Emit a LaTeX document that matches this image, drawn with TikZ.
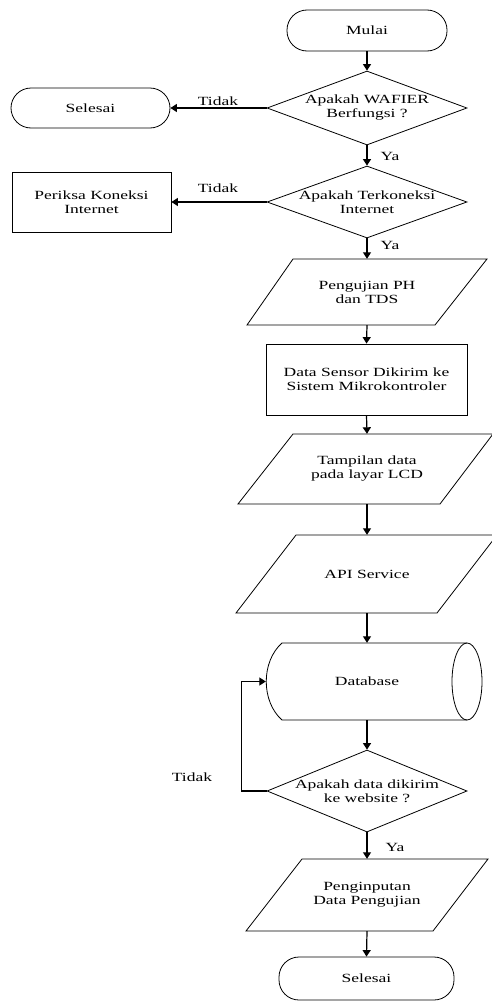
\documentclass[tikz,border=0pt]{standalone}
\usepackage{fontspec}
\setmainfont[FakeStretch=1.4]{Liberation Serif}
\usetikzlibrary{shapes.geometric,arrows.meta}
\begin{document}
\begin{tikzpicture}[x=1pt,y=-1pt,
  font=\fontsize{12.5}{14}\selectfont,
  shp/.style={draw, line width=0.8pt},
  term/.style={shp, rectangle, rounded corners=20pt, inner sep=0pt},
  proc/.style={shp, rectangle, inner sep=0pt, align=center},
  decision/.style={shp, diamond, inner sep=0pt},
  txt/.style={inner sep=0pt, align=center},
  lbl/.style={inner sep=0pt},
  flow/.style={line width=1.2pt, -{Triangle[width=8pt,length=6.5pt]}}]
\useasboundingbox (0,0) rectangle (491,1001);

% terminals
\node[term, minimum width=160pt, minimum height=41pt] (start) at (367,30.5) {Mulai};
\node[term, minimum width=159pt, minimum height=40pt] (sel1) at (90.5,108) {Selesai};
\node[term, minimum width=175pt, minimum height=43pt] (sel2) at (366.5,978.5) {Selesai};

% decisions
\node[decision, minimum width=200pt, minimum height=74pt] (d1) at (367,108) {};
\node[txt] (d1t) at (d1.center) {Apakah WAFIER\\Berfungsi ?};
\node[decision, minimum width=200pt, minimum height=72pt] (d2) at (367,202) {};
\node[txt] (d2t) at (d2.center) {Apakah Terkoneksi\\Internet};
\node[decision, minimum width=200pt, minimum height=82pt] (d3) at (367,791) {};
\node[txt] (d3t) at (d3.center) {Apakah data dikirim\\ke website ?};

% processes
\node[proc, minimum width=159pt, minimum height=60pt] (cek) at (91.5,202) {Periksa Koneksi\\Internet};
\node[proc, minimum width=201pt, minimum height=71pt] (ds) at (366.5,379.5) {Data Sensor Dikirim ke\\Sistem Mikrokontroler};

% parallelograms (text nodes + outlines)
\node[txt, minimum height=66pt] (p1) at (367,292) {Pengujian PH\\dan TDS};
\draw[shp, shift={(p1.center)}] (-120,33) -- (68,33) -- (120,-33) -- (-74,-33) -- cycle;
\node[txt, minimum height=70pt] (p2) at (367,469) {Tampilan data\\pada layar LCD};
\draw[shp, shift={(p2.center)}] (-129,35) -- (73,35) -- (126,-35) -- (-74,-35) -- cycle;
\node[txt, minimum height=78pt] (p3) at (367,574) {API Service};
\draw[shp, shift={(p3.center)}] (-131,39) -- (70,39) -- (130,-39) -- (-71,-39) -- cycle;
\node[txt, minimum height=72pt] (p4) at (367,895) {Penginputan\\Data Pengujian};
\draw[shp, shift={(p4.center)}] (-121,36) -- (66,36) -- (121,-36) -- (-65,-36) -- cycle;

% database (horizontal cylinder)
\node[txt, minimum width=202pt, minimum height=77pt] (db) at (367,681.5) {Database};
\draw[shp, shift={(db.center)}] (100,-38.5) -- (-85,-38.5)
  .. controls (-106,-20) and (-106,20) .. (-85,38.5) -- (100,38.5);
\draw[shp, shift={(db.center)}] (100,0) ellipse [x radius=15pt, y radius=38.5pt];

% connectors
\draw[flow] (start.south) -- (d1.north);
\draw[flow] (d1.west) -- (sel1.east);
\draw[flow] (d1.south) -- (d2.north);
\draw[flow] (d2.west) -- (cek.east);
\draw[flow] (d2.south) -- (p1.north);
\draw[flow] (p1.south) -- (ds.north);
\draw[flow] (ds.south) -- (p2.north);
\draw[flow] (p2.south) -- (p3.north);
\draw[flow] (p3.south) -- (db.north);
\draw[flow] (db.south) -- (d3.north);
\draw[flow] (d3.west) -- ++(-25,0) |- (db.west);
\draw[flow] (d3.south) -- (p4.north);
\draw[flow] (p4.south) -- (sel2.north);

% labels
\node[lbl] (l1) at (218,101) {Tidak};
\node[lbl] (l2) at (218,188) {Tidak};
\node[lbl] (l3) at (192,777) {Tidak};
\node[lbl] (y1) at (390,156) {Ya};
\node[lbl] (y2) at (390,245) {Ya};
\node[lbl] (y3) at (395,847) {Ya};
\end{tikzpicture}
\end{document}
